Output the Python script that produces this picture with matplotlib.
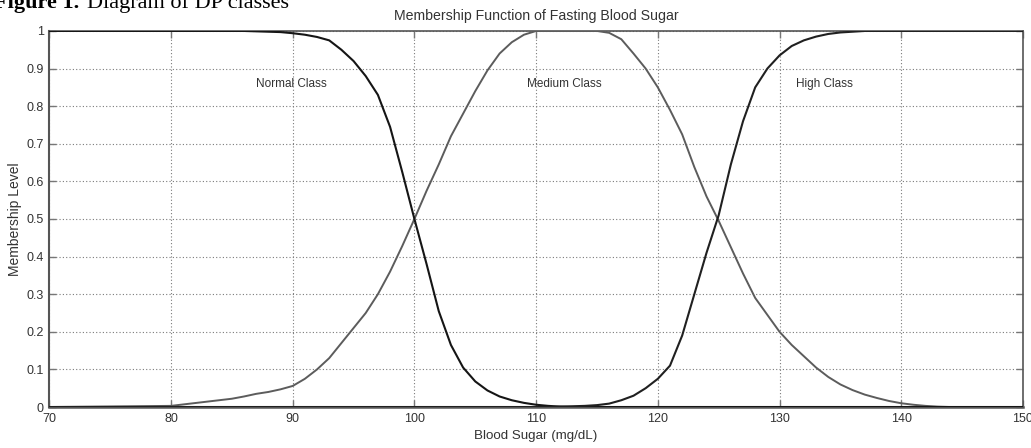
import matplotlib
matplotlib.use("Agg")
import matplotlib.pyplot as plt

# blood sugar values (mg/dL) and membership levels
sugar = [70, 80, 85, 86, 87, 88, 89, 90, 91, 92, 93, 94, 95, 96, 97, 98, 99, 100,
         101, 102, 103, 104, 105, 106, 107, 108, 109, 110, 111, 112, 113, 114, 115,
         116, 117, 118, 119, 120, 121, 122, 123, 124, 125, 126, 127, 128, 129, 130,
         131, 132, 133, 134, 135, 136, 137, 138, 139, 140, 141, 142, 143, 144, 145, 150]

normal = [1.0, 1.0, 1.0, 1.0, 0.999, 0.998, 0.997, 0.994, 0.99, 0.984, 0.975, 0.95, 0.92,
          0.88, 0.83, 0.745, 0.625, 0.5, 0.38, 0.255, 0.165, 0.105, 0.068, 0.044, 0.028,
          0.018, 0.011, 0.006, 0.003, 0.001, 0.0, 0.0, 0.0,
          0.0, 0.0, 0.0, 0.0, 0.0, 0.0, 0.0, 0.0, 0.0, 0.0, 0.0, 0.0, 0.0, 0.0, 0.0,
          0.0, 0.0, 0.0, 0.0, 0.0, 0.0, 0.0, 0.0, 0.0, 0.0, 0.0, 0.0, 0.0, 0.0, 0.0, 0.0]

medium = [0.0, 0.003, 0.022, 0.028, 0.035, 0.04, 0.047, 0.056, 0.075, 0.1, 0.13, 0.17, 0.21,
          0.25, 0.3, 0.36, 0.428, 0.5, 0.575, 0.645, 0.72, 0.78, 0.84, 0.895, 0.94,
          0.97, 0.99, 1.0, 1.0, 1.0, 1.0, 1.0, 1.0,
          0.995, 0.978, 0.94, 0.9, 0.85, 0.79, 0.725, 0.638, 0.56, 0.495, 0.425, 0.355, 0.29, 0.245, 0.2,
          0.165, 0.135, 0.105, 0.08, 0.06, 0.045, 0.033, 0.024, 0.016, 0.01, 0.006, 0.003, 0.001, 0.0, 0.0, 0.0]

high = [0.0, 0.0, 0.0, 0.0, 0.0, 0.0, 0.0, 0.0, 0.0, 0.0, 0.0, 0.0, 0.0,
        0.0, 0.0, 0.0, 0.0, 0.0, 0.0, 0.0, 0.0, 0.0, 0.0, 0.0, 0.0,
        0.0, 0.0, 0.0, 0.0, 0.001, 0.002, 0.003, 0.005,
        0.009, 0.018, 0.03, 0.05, 0.075, 0.11, 0.19, 0.3, 0.41, 0.51, 0.645, 0.76, 0.85, 0.9, 0.935,
        0.96, 0.975, 0.985, 0.992, 0.996, 0.998, 1.0, 1.0, 1.0, 1.0, 1.0, 1.0, 1.0, 1.0, 1.0, 1.0]

class_names = ["Normal Class", "Medium Class", "High Class"]
label_pos = [(89.9, 0.86), (112.3, 0.86), (133.7, 0.86)]

plt.rcParams['font.family'] = ['Liberation Sans', 'DejaVu Sans']

fig = plt.figure(figsize=(10.31, 4.48), dpi=100)
ax = fig.add_axes([0.0478, 0.0915, 0.9444, 0.8394])

ax.plot(sugar, medium, c="#5c5c5c", lw=1.4, zorder=3)
ax.plot(sugar, normal, c="#151515", lw=1.5, zorder=4)
ax.plot(sugar, high, c="#202020", lw=1.5, zorder=4)

for name, (px, py) in zip(class_names, label_pos):
    ax.text(px, py, name, ha="center", va="center", fontsize=8.5, color="#333333")

ax.set_xlim(70, 150)
ax.set_ylim(0, 1)
ax.set_xticks(range(70, 151, 10))
ax.set_yticks([i / 10 for i in range(11)])
ax.set_yticklabels(["0", "0.1", "0.2", "0.3", "0.4", "0.5", "0.6", "0.7", "0.8", "0.9", "1"])
ax.grid(True, linestyle=(0, (1, 2)), color="#7a7a7a", lw=0.8)
ax.tick_params(direction="in", length=5, width=1, color="#777777",
               top=True, right=True, labelsize=9, labelcolor="#333333", pad=4)

for side in ["left", "bottom", "top", "right"]:
    ax.spines[side].set_color("#555555")
    ax.spines[side].set_linewidth(1.2)
ax.spines["bottom"].set_linewidth(1.8)
ax.spines["left"].set_linewidth(1.5)

ax.set_title("Membership Function of Fasting Blood Sugar", fontsize=10.2, color="#333333", pad=8)
ax.set_xlabel("Blood Sugar (mg/dL)", fontsize=9.6, color="#333333", labelpad=4)
ax.set_ylabel("Membership Level", fontsize=10, color="#333333")
ax.yaxis.set_label_coords(-0.028, 0.5)

# caption partly cut off at the top of the image
fig.text(-6 / 1031, 1 - 8 / 448, "Figure 1.", fontsize=16, fontweight="bold",
         family="Liberation Serif", va="baseline")
fig.text(87 / 1031, 1 - 8 / 448, "Diagram of DP classes", fontsize=16,
         family="Liberation Serif", va="baseline")

fig.savefig("out.png", dpi=100)
